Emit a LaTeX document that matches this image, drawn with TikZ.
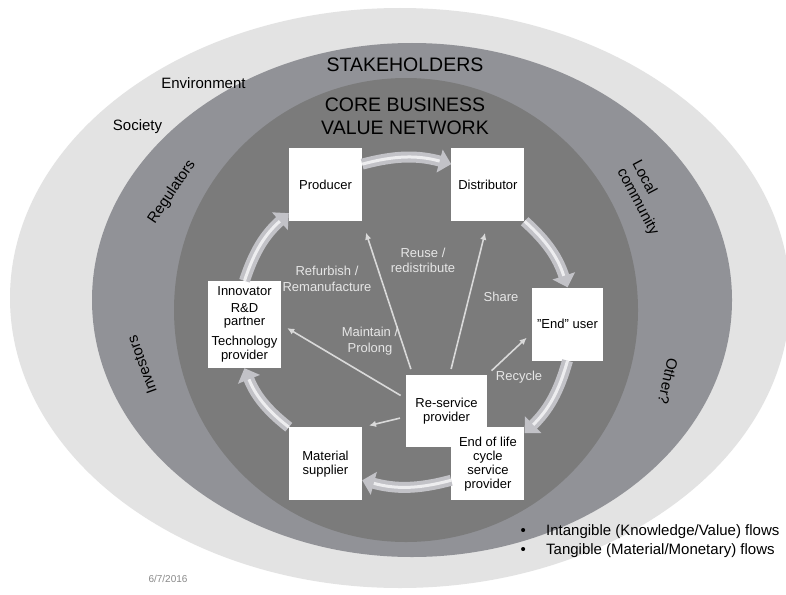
\documentclass[tikz,border=0pt]{standalone}
\usepackage{fontspec}
\setmainfont{Liberation Sans}
\usepackage{xcolor}
\usetikzlibrary{arrows.meta, positioning}
\definecolor{outerring}{HTML}{E3E3E3}
\definecolor{middlering}{HTML}{919297}
\definecolor{innerring}{HTML}{7B7B7B}
\definecolor{flowtext}{HTML}{E6E6E6}
\definecolor{thinflow}{HTML}{D9D9D9}
\definecolor{ringgrey}{HTML}{C2C2C7}
\definecolor{ringlight}{HTML}{EDEDEF}
\definecolor{datetext}{HTML}{8A8A8A}

\begin{document}
\begin{tikzpicture}[
    x=1pt, y=-1pt,
    actor/.style={rectangle, fill=white, minimum width=73pt, minimum height=73pt, inner sep=1pt, align=center, font=\fontsize{13}{14}\selectfont},
    flowlabel/.style={text=flowtext, align=center, inner sep=0pt, font=\fontsize{13}{15.5}\selectfont},
    ringlabel/.style={inner sep=0pt, font=\fontsize{15}{17}\selectfont},
    title/.style={inner sep=0pt, align=center, font=\fontsize{19.5}{23}\selectfont},
    ringarrow/.style={draw=ringgrey, line width=11pt, -{Triangle[length=12pt, width=23pt]}, bend left=15,
        postaction={draw=ringlight, line width=3pt, -, shorten >=12pt}},
    arrow/.style={-{Latex[length=7pt, width=6.5pt]}, draw=thinflow, line width=1.6pt, shorten <=6pt, shorten >=7pt}
]

\useasboundingbox (0,0) rectangle (786,594);
\fill[white] (0,0) rectangle (786,594);
\fill[outerring] (400,298) ellipse [x radius=390pt, y radius=290pt];
\fill[middlering] (412,300) ellipse [x radius=320pt, y radius=257pt];
\fill[innerring] (406,310) ellipse [x radius=232pt, y radius=232pt];

\node[title] (stake) at (405,65) {STAKEHOLDERS};
\node[title] (core) at (405,116) {CORE BUSINESS\\VALUE NETWORK};
\node[ringlabel] (env) at (203.5,83) {Environment};
\node[ringlabel] (soc) at (137.5,127) {Society};
\node[ringlabel, rotate=56] (reg) at (172,192) {Regulators};
\node[ringlabel, rotate=110] (inv) at (142,365) {Investors};
\node[ringlabel, rotate=-62, align=left] (local) at (645,198) {Local\\community};
\node[ringlabel, rotate=-103] (other) at (668,381) {Other?};

\node[actor] (prod) at (325.5,184.5) {Producer};
\node[actor, right=89pt of prod] (dist) {Distributor};
\node[actor, minimum width=71pt] (eu) at (567.5,324) {”End” user};
\node[actor, minimum height=87pt] (innov) at (244.5,324.5) {Innovator\\[3pt]R\&D\\[-1pt]partner\\[6pt]Technology\\provider};
\node[actor, below=206pt of prod] (mat) {Material\\supplier};
\node[actor, minimum width=81pt, minimum height=72pt] (resv) at (446.5,411) {Re-service\\provider};
\node[actor, right=89pt of mat] (eol) {End of life\\cycle\\service\\provider};

\draw[ringarrow] (prod.29) to (dist.151);
\draw[ringarrow] (dist.south east) to (eu.north);
\draw[ringarrow] (eu.south) to (eol.40);
\draw[ringarrow] (eol.204) to (mat.336);
\draw[ringarrow] (mat.north west) to (innov.south);
\draw[ringarrow] (innov.north) to (prod.218);

\draw[arrow, shorten >=12pt] (resv.133) -- (prod.south east);
\draw[arrow, shorten >=12pt] (resv.85) -- (dist.south);
\draw[arrow] (resv.north east) -- (eu.194);
\draw[arrow] (resv.163) -- (innov.east);
\draw[arrow] (resv.188) -- (mat.north east);

\node[flowlabel] (reuse) at (423,260.5) {Reuse /\\redistribute};
\node[flowlabel] (refurb) at (327,279) {Refurbish /\\Remanufacture};
\node[flowlabel] (share) at (501,297) {Share};
\node[flowlabel] (maintain) at (370,341) {Maintain /\\Prolong};
\node[flowlabel] (recycle) at (519,377) {Recycle};

\node[ringlabel, anchor=west] (intang) at (520.5,532) {\makebox[25.5pt][l]{\textbullet}Intangible (Knowledge/Value) flows};
\node[ringlabel, anchor=west] (tang) at (520.5,551) {\makebox[25.5pt][l]{\textbullet}Tangible (Material/Monetary) flows};
\node[inner sep=0pt, text=datetext, font=\fontsize{10}{12}\selectfont] (date) at (168,579) {6/7/2016};

\end{tikzpicture}
\end{document}
